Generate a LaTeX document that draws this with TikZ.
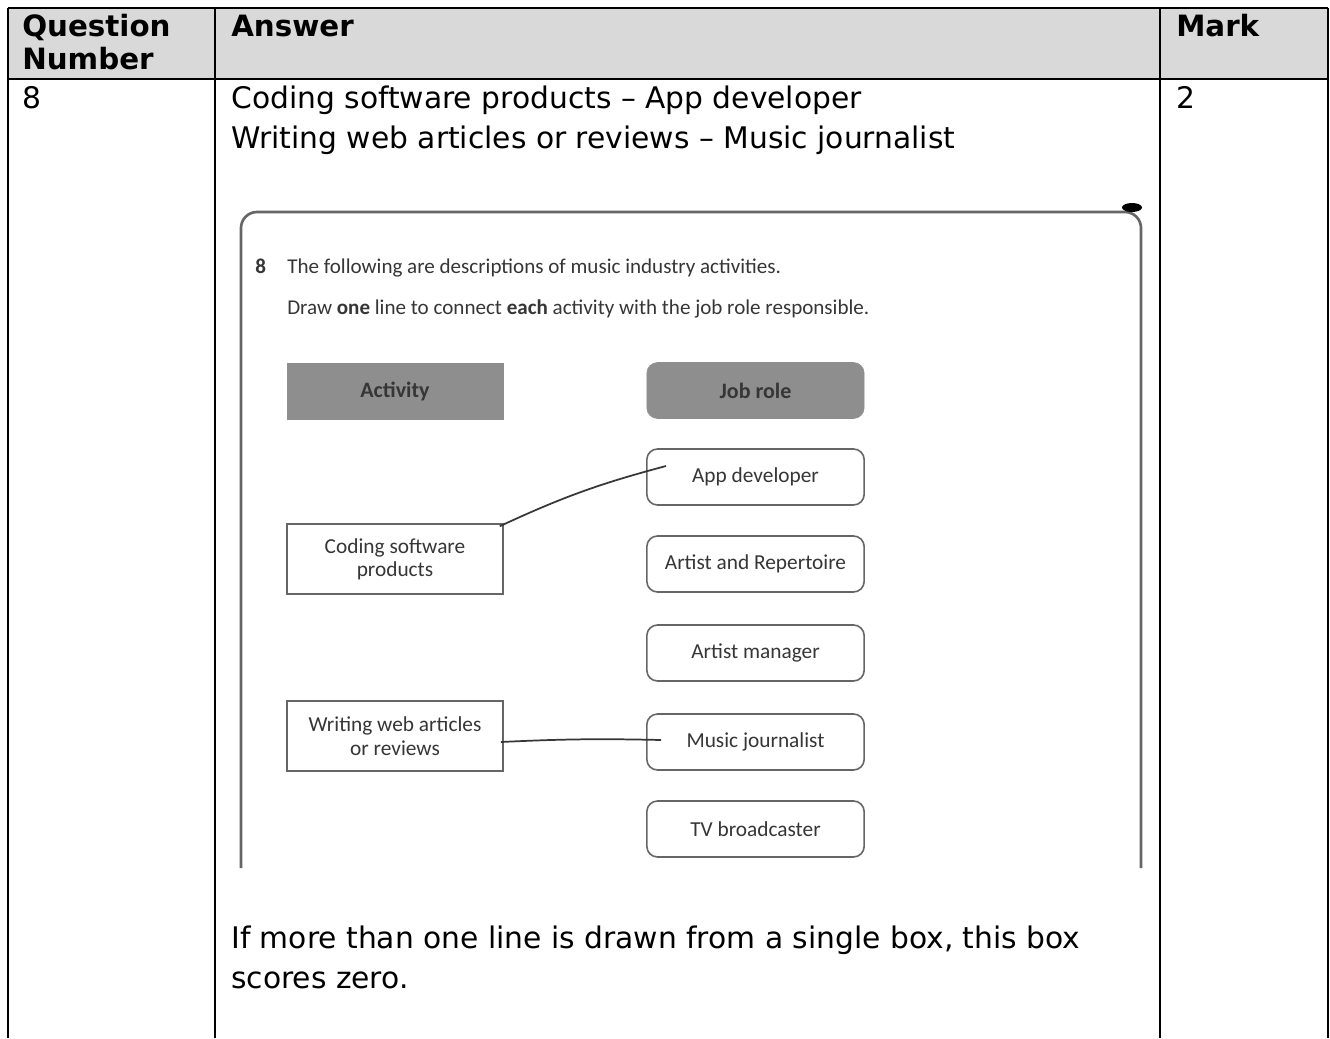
\documentclass[tikz,border=0pt]{standalone}
\usepackage{fontspec}
\setmainfont{DejaVu Sans}
\newfontfamily\scanfont{Carlito}
\usetikzlibrary{calc}
\definecolor{hdrgray}{HTML}{D9D9D9}
\definecolor{scanink}{HTML}{363636}
\definecolor{scanline}{HTML}{666666}
\definecolor{scanfill}{HTML}{8E8E8E}
\begin{document}
\begin{tikzpicture}[x=0.75pt,y=-0.75pt,
  tabline/.style={line width=1.7pt,black},
  celltext/.style={anchor=base west,inner sep=0pt,font=\fontsize{22.3}{26}\selectfont},
  cellhead/.style={anchor=base west,inner sep=0pt,font=\fontsize{22}{26}\selectfont\bfseries},
  scantext/.style={anchor=base west,inner sep=0pt,text=scanink,font=\scanfont\fontsize{15.8}{18}\selectfont},
  actbox/.style={draw=scanline,line width=1.2pt,minimum width=162pt,minimum height=52.5pt,inner sep=2pt,align=center,text=scanink,font=\scanfont\fontsize{16}{17.5}\selectfont},
  rolebox/.style={draw=scanline,line width=1.2pt,rounded corners=8pt,minimum width=163pt,minimum height=42pt,inner sep=2pt,text=scanink,font=\scanfont\fontsize{16}{18}\selectfont},
  headbox/.style={fill=scanfill,draw=scanfill,minimum width=162pt,minimum height=42pt,inner sep=2pt,text=scanink,font=\scanfont\bfseries\fontsize{16.5}{18}\selectfont},
  matchline/.style={draw=scanink,line width=1.3pt},
  frameline/.style={draw=scanline,line width=2pt}
]
\useasboundingbox (0,0) rectangle (1330,1038);
\fill[white] (0,0) rectangle (1330,1038);
% header fill
\fill[hdrgray] (8,8) rectangle (1328,79);
% table rules
\draw[tabline] (8,8) -- (1328,8);
\draw[tabline] (8,79) -- (1328,79);
\draw[tabline] (8,8) -- (8,1038);
\draw[tabline] (215,8) -- (215,1038);
\draw[tabline] (1160,8) -- (1160,1038);
\draw[tabline] (1328,8) -- (1328,1038);
% header texts
\node[cellhead] (hq) at (22,37) {Question};
\node[cellhead] (hn) at (22,70) {Number};
\node[cellhead] (ha) at (231,37) {Answer};
\node[cellhead] (hm) at (1176,37) {Mark};
% body texts
\node[celltext] (qnum) at (22,109) {8};
\node[celltext] (mark) at (1176,109) {2};
\node[celltext] (ans1) at (231,109) {Coding software products – App developer};
\node[celltext] (ans2) at (231,149) {Writing web articles or reviews – Music journalist};
\node[celltext] (note1) at (231,948) {If more than one line is drawn from a single box, this box};
\node[celltext] (note2) at (231,988) {scores zero.};
% scanned question frame
\draw[frameline,rounded corners=12pt] (241,868) -- (241,212) -- (1141,212) -- (1141,868);
\fill[black] (1132,207.5) ellipse (10 and 4.5);
% question text
\node[scantext,font=\scanfont\bfseries\fontsize{15.8}{18}\selectfont] (qn8) at (255,273) {8};
\node[scantext] (qt1) at (287,273) {The following are descriptions of music industry activities.};
\node[scantext] (qt2) at (287,314) {Draw \textbf{one} line to connect \textbf{each} activity with the job role responsible.};
% header boxes
\node[headbox] (acth) at (395,391) {Activity};
\node[headbox,rounded corners=8pt,minimum width=163pt] (roleh) at (755.5,390.5) {Job role};
% activity boxes
\node[actbox] (coding) at (395,559) {Coding software\\products};
\node[actbox] (writing) at (395,736) {Writing web articles\\or reviews};
% role boxes
\node[rolebox] (app) at (755.5,477) {App developer};
\node[rolebox] (ar) at (755.5,564) {Artist and Repertoire};
\node[rolebox] (mgr) at (755.5,653) {Artist manager};
\node[rolebox] (music) at (755.5,742) {Music journalist};
\node[rolebox] (tv) at (755.5,829) {TV broadcaster};
% matching lines
\coordinate (c1s) at ($(coding.north east)+(-4,3)$);
\coordinate (c1e) at ($(app.west)+(20,-11)$);
\coordinate (c2s) at ($(writing.east)+(-3,6)$);
\coordinate (c2e) at ($(music.west)+(15,-2)$);
\draw[matchline] (c1s) to[bend left=5] (c1e);
\draw[matchline] (c2s) to[bend left=2] (c2e);
\end{tikzpicture}
\end{document}
